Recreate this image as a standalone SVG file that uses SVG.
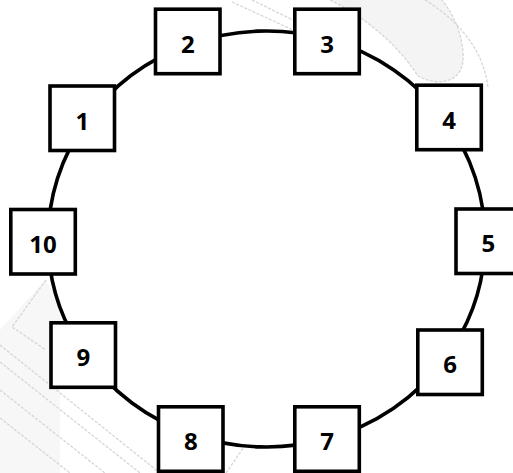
<svg xmlns="http://www.w3.org/2000/svg" width="513" height="473" viewBox="0 0 513 473">
  <style>
    .box { fill: #ffffff; stroke: #000000; stroke-width: 3.6; }
    .lbl { font-family: "Open Sans", "Liberation Sans", sans-serif; font-weight: 700; font-size: 24px; fill: #000000; text-anchor: middle; }
    .edge { fill: none; stroke: #000000; stroke-width: 3.6; }
    .wm { fill: none; stroke: #d6d6d6; stroke-width: 1.3; stroke-dasharray: 3 1.5; }
    .wmfill { fill: #f4f4f4; stroke: none; }
  </style>
  <rect x="0" y="0" width="513" height="473" fill="#ffffff"/>
  <g id="watermark">
    <path class="wmfill" d="M 330 0 C 375 22 405 55 418 76 C 440 88 466 82 463 52 C 461 30 452 12 442 0 Z"/>
    <path class="wm" d="M 330 0 C 375 22 405 55 418 76 C 440 88 466 82 463 52 C 461 30 452 12 442 0"/>
    <path class="wm" d="M 425 0 C 458 20 484 50 488 88"/>
    <path class="wm" d="M 232 2 L 293 30"/>
    <path class="wm" d="M 252 0 L 293 20"/>
    <path class="wmfill" d="M 0 330 L 45 280 L 60 300 L 60 473 L 0 473 Z" opacity="0.7"/>
    <path class="wm" d="M 46 280 L 12 327 L 46 350"/>
    <path class="wm" d="M 0 345 L 160 473"/>
    <path class="wm" d="M 0 362 L 140 473"/>
    <path class="wm" d="M 0 390 L 105 473"/>
    <path class="wm" d="M 0 418 L 70 473"/>
    <path class="wm" d="M 226 473 L 246 444"/>
  </g>
  <g id="connectors">
    <path class="edge" d="M 86.65 120.88 A 218.5 208 0 0 1 188.91 44.56"/>
    <path class="edge" d="M 188.91 44.56 A 218.5 208 0 0 1 327.64 39.32"/>
    <path class="edge" d="M 327.64 39.32 A 218.5 208 0 0 1 445.49 119.69"/>
    <path class="edge" d="M 445.49 119.69 A 218.5 208 0 0 1 484.99 241.18"/>
    <path class="edge" d="M 484.99 241.18 A 218.5 208 0 0 1 445.04 358.89"/>
    <path class="edge" d="M 445.04 358.89 A 218.5 208 0 0 1 327.09 438.85"/>
    <path class="edge" d="M 327.09 438.85 A 218.5 208 0 0 1 192.49 434.71"/>
    <path class="edge" d="M 192.49 434.71 A 218.5 208 0 0 1 84.51 354.11"/>
    <path class="edge" d="M 84.51 354.11 A 218.5 208 0 0 1 48.02 241.54"/>
    <path class="edge" d="M 48.02 241.54 A 218.5 208 0 0 1 86.65 120.88"/>
  </g>
  <g id="node1"><rect class="box" x="50" y="86" width="64.5" height="64.5"/><text class="lbl" x="82.25" y="129.8">1</text></g>
  <g id="node2"><rect class="box" x="155.5" y="9.2" width="64.5" height="64.5"/><text class="lbl" x="187.75" y="52.8">2</text></g>
  <g id="node3"><rect class="box" x="294.8" y="9.2" width="64.5" height="64.5"/><text class="lbl" x="327" y="52.8">3</text></g>
  <g id="node4"><rect class="box" x="416.8" y="85.2" width="64.5" height="64.5"/><text class="lbl" x="449" y="129">4</text></g>
  <g id="node5"><rect class="box" x="456" y="209" width="64.5" height="64.5"/><text class="lbl" x="488.25" y="252.3">5</text></g>
  <g id="node6"><rect class="box" x="417.8" y="330" width="64.5" height="64.5"/><text class="lbl" x="450" y="373.3">6</text></g>
  <g id="node7"><rect class="box" x="294.8" y="406.8" width="64.5" height="64.5"/><text class="lbl" x="327" y="449.8">7</text></g>
  <g id="node8"><rect class="box" x="158.5" y="406.8" width="64.5" height="64.5"/><text class="lbl" x="190.75" y="449.8">8</text></g>
  <g id="node9"><rect class="box" x="51" y="322.8" width="64.5" height="64.5"/><text class="lbl" x="83.25" y="366.3">9</text></g>
  <g id="node10"><rect class="box" x="10.8" y="209.5" width="64.5" height="64.5"/><text class="lbl" x="43" y="253.3">10</text></g>
</svg>
